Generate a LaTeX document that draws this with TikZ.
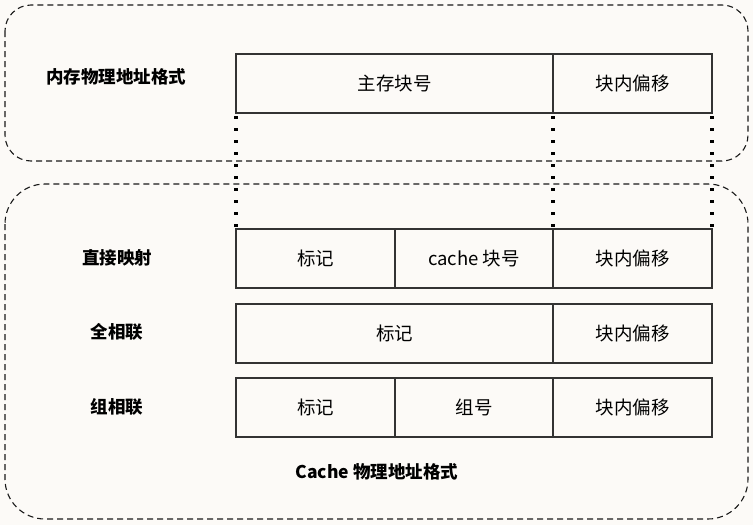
\documentclass[tikz,border=0pt]{standalone}
\usepackage{fontspec}
\setmainfont{Noto Sans CJK SC}
\usetikzlibrary{positioning}
\definecolor{paper}{HTML}{FCFAF7}
\definecolor{edge}{HTML}{333333}

\begin{document}
\begin{tikzpicture}[
  x=1pt, y=-1pt,
  font=\fontsize{18.5}{22}\selectfont,
  field/.style = {draw=edge, line width=1.4pt, minimum height=59pt, inner sep=0pt,
                  outer sep=0pt, anchor=north west},
  half/.style  = {field, minimum width=159pt},
  wide/.style  = {field, minimum width=317pt},
  lbl/.style   = {inner sep=0pt, font=\fontsize{17.5}{20}\selectfont\bfseries},
  frame/.style = {draw=black!90, line width=1.1pt, dash pattern=on 6pt off 4pt},
  guide/.style = {draw=black, line width=3.2pt, dash pattern=on 3.2pt off 8.8pt},
]
\fill[paper] (0,0) rectangle (753,525);
\useasboundingbox (0,0) rectangle (753,525);

% =============== frames ===============
\draw[frame, rounded corners=26pt] (5,5) rectangle (748,161);
\draw[frame, rounded corners=40pt] (5,184) rectangle (748,519);

% =============== memory address ===============
\node[lbl] (memlbl) at (116,77) {内存物理地址格式};
\node[wide] (mblk) at (236,54) {主存块号};
\node[half, right=0pt of mblk] (moff) {块内偏移};

% =============== cache address ===============
\node[lbl] (dmlbl) at (117,258) {直接映射};
\node[half] (dtag) at (236,229) {标记};
\node[field, minimum width=158pt, right=0pt of dtag] (dline) {cache 块号};
\node[half, right=0pt of dline] (doff) {块内偏移};

\node[lbl] (falbl) at (117,332) {全相联};
\node[wide] (ftag) at (236,304) {标记};
\node[half, right=0pt of ftag] (foff) {块内偏移};

\node[lbl] (salbl) at (117,407) {组相联};
\node[half] (stag) at (236,378) {标记};
\node[field, minimum width=158pt, right=0pt of stag] (sset) {组号};
\node[half, right=0pt of sset] (soff) {块内偏移};

\node[lbl] (cachelbl) at (377,472) {Cache 物理地址格式};

% dotted guides
\draw[guide] (mblk.south west) ++(0,3) -- (dtag.north west);
\draw[guide] (moff.south west) ++(0,3) -- (doff.north west);
\draw[guide] (moff.south east) ++(0,3) -- (doff.north east);

\end{tikzpicture}
\end{document}
